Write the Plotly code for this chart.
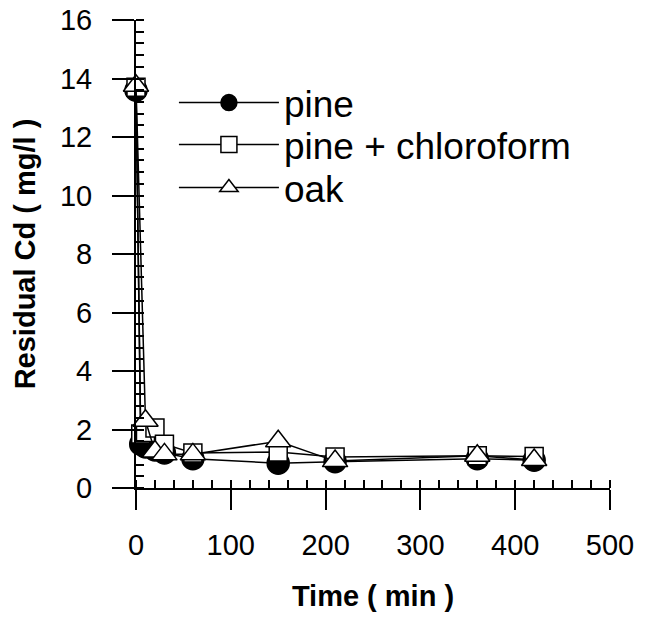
import plotly.graph_objects as go

# ---- data ----
pine_t = [0, 5, 10, 20, 30, 60, 150, 210, 360, 420]
pine_y = [13.6, 1.5, 1.4, 1.3, 1.2, 1.0, 0.85, 0.9, 1.0, 0.95]

chloro_t = [0, 5, 10, 20, 30, 60, 150, 210, 360, 420]
chloro_y = [13.7, 1.85, 1.9, 2.05, 1.5, 1.2, 1.23, 1.06, 1.1, 1.08]

oak_t = [0, 10, 20, 30, 60, 150, 210, 360, 420]
oak_y = [13.75, 2.3, 1.25, 1.15, 1.15, 1.6, 0.92, 1.1, 0.96]

series_names = ["pine", "pine + chloroform", "oak"]
x_ticks = [0, 100, 200, 300, 400, 500]
y_ticks = [0, 2, 4, 6, 8, 10, 12, 14, 16]

FONT = "Liberation Sans, Arial, Helvetica, sans-serif"

fig = go.Figure()
fig.add_trace(go.Scatter(
    x=pine_t, y=pine_y, name=series_names[0], mode="lines+markers",
    line=dict(color="black", width=1.5),
    marker=dict(symbol="circle", size=22, color="black",
                line=dict(color="black", width=1.5)),
    cliponaxis=False, legend="legend"))
fig.add_trace(go.Scatter(
    x=chloro_t, y=chloro_y, name=series_names[1], mode="lines+markers",
    line=dict(color="black", width=1.5),
    marker=dict(symbol="square", size=18, color="white",
                line=dict(color="black", width=1.5)),
    cliponaxis=False, legend="legend2"))
fig.add_trace(go.Scatter(
    x=oak_t, y=oak_y, name=series_names[2], mode="lines+markers",
    line=dict(color="black", width=1.5),
    marker=dict(symbol="triangle-up", size=22, color="white",
                line=dict(color="black", width=1.5)),
    cliponaxis=False, legend="legend3"))

leg_common = dict(x=0.080, xanchor="left", yanchor="middle",
                  bgcolor="rgba(0,0,0,0)", font=dict(size=37), itemwidth=100)

fig.update_layout(
    width=648, height=618,
    margin=dict(l=136, r=38, t=20, b=130, autoexpand=False),
    paper_bgcolor="white", plot_bgcolor="white",
    font=dict(family=FONT, color="black", size=29),
    showlegend=True,
    legend=dict(y=0.8226, **leg_common),
    legend2=dict(y=0.7330, **leg_common),
    legend3=dict(y=0.6410, **leg_common),
)
fig.update_xaxes(
    range=[0, 500], tickvals=x_ticks, ticktext=[str(v) for v in x_ticks],
    showgrid=False, zeroline=False, showline=True, linecolor="black", linewidth=2,
    ticks="outside", ticklen=20, tickwidth=2, tickcolor="black",
    minor=dict(ticks="inside", dtick=20, ticklen=8, tickwidth=1.5, tickcolor="black", showgrid=False),
    tickfont=dict(size=29), automargin=False, ticklabelstandoff=10,
    ticklabeloverflow="allow",
    title=dict(text="<b>Time ( min )</b>", font=dict(size=29), standoff=26),
)
fig.update_yaxes(
    range=[0, 16], tickvals=y_ticks, ticktext=[str(v) for v in y_ticks],
    showgrid=False, zeroline=False, showline=True, linecolor="black", linewidth=2,
    ticks="outside", ticklen=22, tickwidth=2, tickcolor="black",
    minor=dict(ticks="inside", dtick=0.4, ticklen=8, tickwidth=1.5, tickcolor="black", showgrid=False),
    tickfont=dict(size=29), automargin=False, ticklabelstandoff=14,
    ticklabeloverflow="allow",
    title=dict(text="<b>Residual Cd ( mg/l )</b>", font=dict(size=29), standoff=16),
)

fig.write_html("out.html", config={"displayModeBar": False},
               post_script="document.body.style.margin='0';")
